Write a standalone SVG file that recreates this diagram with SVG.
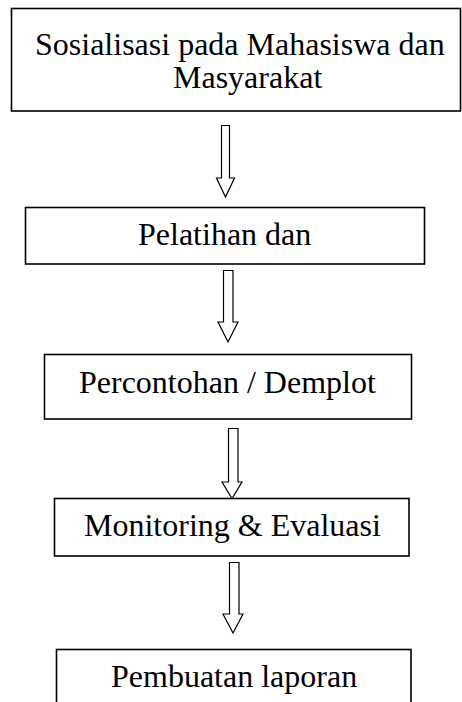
<svg xmlns="http://www.w3.org/2000/svg" width="462" height="702" viewBox="0 0 462 702">
<style>
.box{fill:#fff;stroke:#000;stroke-width:1.6}
.t{font-family:"Liberation Serif","Times New Roman",serif;font-size:32px;fill:#000}
.arr{fill:#fff;stroke:#000;stroke-width:1.2;stroke-linejoin:miter}
</style>
<rect width="462" height="702" fill="#fff"/>
<g id="node1">
<rect class="box" x="11.5" y="8.5" width="449" height="102.5"/>
<text class="t" x="35" y="55">Sosialisasi pada Mahasiswa dan</text>
<text class="t" x="173" y="88">Masyarakat</text>
</g>
<g id="node2">
<rect class="box" x="25.5" y="207.5" width="399" height="56.5"/>
<text class="t" x="138" y="245">Pelatihan dan</text>
</g>
<g id="node3">
<rect class="box" x="44.5" y="354.5" width="367" height="64.5"/>
<text class="t" x="79" y="393">Percontohan / Demplot</text>
</g>
<g id="node4">
<rect class="box" x="54.5" y="498.5" width="354.5" height="57.5"/>
<text class="t" x="84" y="536">Monitoring &amp; Evaluasi</text>
</g>
<g id="node5">
<rect class="box" x="56.5" y="649.5" width="354.5" height="60"/>
<text class="t" x="111" y="687">Pembuatan laporan</text>
</g>
<g id="connectors">
<polygon class="arr" points="221.5,125.5 229.5,125.5 229.5,178 234.5,178 225.5,197 216.5,178 221.5,178"/>
<polygon class="arr" points="223.5,270.5 233,270.5 233,322 238,322 228,342 218,322 223.5,322"/>
<polygon class="arr" points="228.5,428.5 238,428.5 238,482 242,482 232,498.5 222,482 228.5,482"/>
<polygon class="arr" points="229.5,562.5 239,562.5 239,614 243,614 233,633 223,614 229.5,614"/>
</g>
</svg>
